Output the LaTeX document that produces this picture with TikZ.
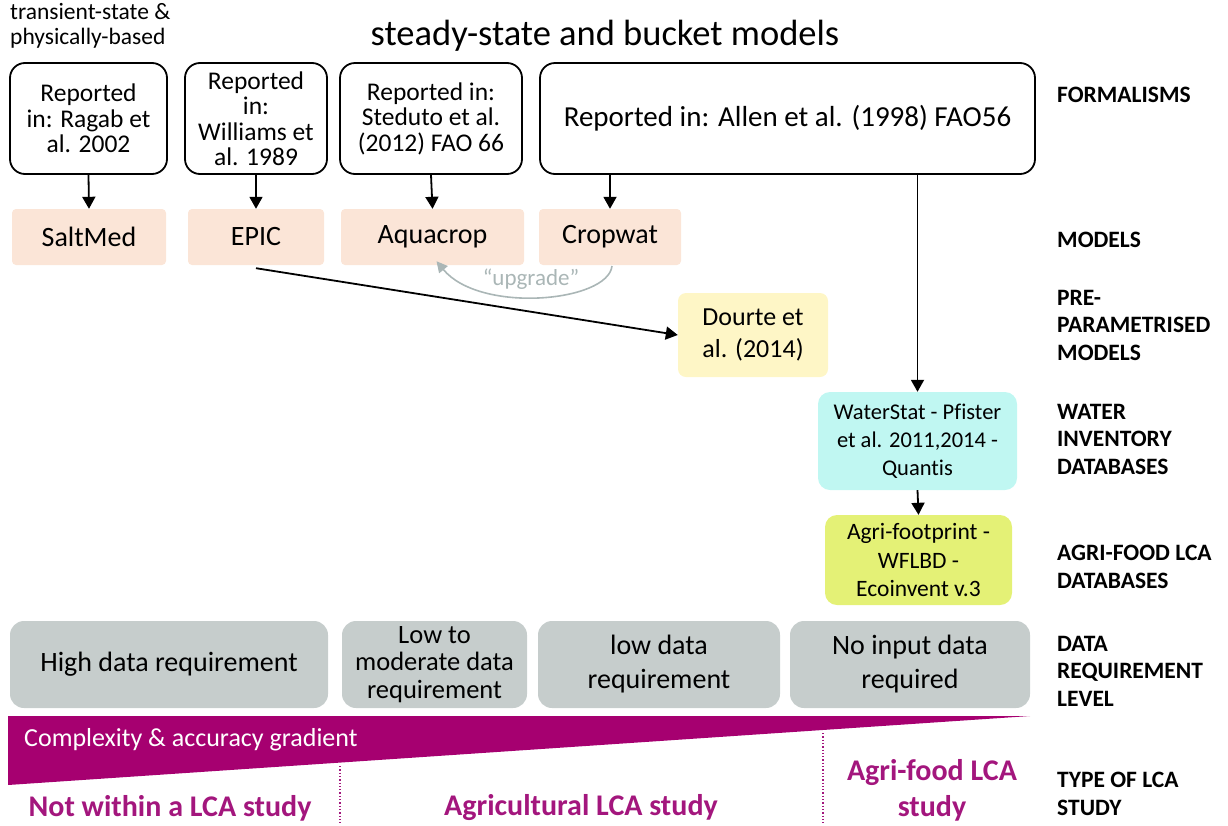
\documentclass[tikz,border=0pt]{standalone}
\usepackage{fontspec}
\setmainfont{Carlito}[Ligatures=NoCommon]
\usetikzlibrary{arrows.meta}
\definecolor{peach}{RGB}{251,229,215}
\definecolor{lyellow}{RGB}{254,246,198}
\definecolor{lcyan}{RGB}{192,247,242}
\definecolor{lgreen}{RGB}{228,241,118}
\definecolor{lgray}{RGB}{198,205,204}
\definecolor{mag}{RGB}{166,0,112}
\definecolor{magtext}{RGB}{163,22,125}
\definecolor{upg}{RGB}{170,182,182}
\newcommand\fs[2]{\fontsize{#1}{#2}\selectfont}
\tikzset{
  x=1pt, y=-1pt,
  formbox/.style={draw=black, line width=1.8pt, rounded corners=15pt, fill=white, align=center, inner sep=0pt, font=\fs{25.5}{25.5}},
  modelbox/.style={fill=peach, rounded corners=4pt, align=center, inner sep=0pt, font=\fs{28}{30}},
  databox/.style={fill=lgray, rounded corners=14pt, align=center, inner sep=0pt, font=\fs{28}{34}},
  sidelabel/.style={anchor=west, align=left, inner sep=0pt, font=\bfseries\fs{23.5}{27.5}},
  studylabel/.style={align=center, inner sep=0pt, text=magtext, font=\bfseries\fs{30}{36}},
  arr/.style={line width=1.8pt, -{Triangle[width=13pt,length=12pt]}},
  dotline/.style={magtext, line width=1.3pt, dotted},
}
\begin{document}
\begin{tikzpicture}
\useasboundingbox (0,0) rectangle (1228,825);
% title and header
\node[align=left, anchor=north west, inner sep=0pt, font=\fs{23.5}{25}] (ts) at (10,3) {transient-state \&\\physically-based};
\node[inner sep=0pt, font=\fs{36.5}{40}] (title) at (605,36) {steady-state and bucket models};
% formalisms
\node[formbox, minimum width=157pt, minimum height=111pt] (f1) at (88.5,118.5) {Reported\\in: Ragab et\\al. 2002};
\node[formbox, minimum width=142pt, minimum height=111pt] (f2) at (256,118.5) {Reported\\in:\\Williams et\\al. 1989};
\node[formbox, minimum width=182pt, minimum height=111pt] (f3) at (431,118.5) {Reported in:\\Steduto et al.\\(2012) FAO 66};
\node[formbox, minimum width=495pt, minimum height=111pt, font=\fs{29}{31}] (f4) at (787.5,118.5) {Reported in: Allen et al. (1998) FAO56};
% models
\node[modelbox, minimum width=154pt, minimum height=56pt] (m1) at (89,237) {SaltMed};
\node[modelbox, minimum width=136pt, minimum height=56pt] (m2) at (256,237) {EPIC};
\node[modelbox, minimum width=183pt, minimum height=56pt] (m3) at (432.5,237) {Aquacrop};
\node[modelbox, minimum width=142pt, minimum height=56pt] (m4) at (610,237) {Cropwat};
% other databases
\node[fill=lyellow, rounded corners=8pt, align=center, inner sep=0pt, minimum width=150pt, minimum height=84pt, font=\fs{26}{32}] (dourte) at (753,335) {Dourte et\\al. (2014)};
\node[fill=lcyan, rounded corners=12pt, align=center, inner sep=0pt, minimum width=199pt, minimum height=98pt, font=\fs{22.5}{28}] (ws) at (917.5,441) {WaterStat - Pfister\\et al. 2011,2014 -\\Quantis};
\node[fill=lgreen, rounded corners=12pt, align=center, inner sep=0pt, minimum width=187pt, minimum height=90pt, font=\fs{23.5}{28.5}] (af) at (918.5,560) {Agri-footprint -\\WFLBD -\\Ecoinvent v.3};
% data requirement
\node[databox, minimum width=318pt, minimum height=87pt] (d1) at (169,664.5) {High data requirement};
\node[databox, minimum width=185pt, minimum height=87pt, font=\fs{26.5}{27.5}] (d2) at (434.5,664.5) {Low to\\moderate data\\requirement};
\node[databox, minimum width=242pt, minimum height=87pt] (d3) at (659,664.5) {low data\\requirement};
\node[databox, minimum width=240pt, minimum height=87pt] (d4) at (910,664.5) {No input data\\required};
% arrows
\draw[arr] (f1.south) -- (m1.north);
\draw[arr] (f2.south) -- (m2.north);
\draw[arr] (f3.south) -- (m3.north);
\draw[arr] (f4.south -| m4.north) -- (m4.north);
\draw[arr] (f4.south -| ws.north) -- (ws.north);
\draw[arr] (ws.south) -- (af.north);
\draw[arr] ([yshift=-3pt]m2.south) -- (dourte.west);
% upgrade
\coordinate (ustart) at (612,266);
\draw[upg, line width=1.6pt, -{Triangle[width=11pt,length=11pt]}] (ustart) .. controls (608,302) and (480,314) .. ([xshift=4pt,yshift=4pt]m3.south);
\node[text=upg, inner sep=0pt, font=\fs{23}{26}] (upgl) at (531,279) {“upgrade”};
% gradient wedge
\fill[mag] (8,716) -- (1030,716) -- (8,785) -- cycle;
\node[anchor=west, text=white, inner sep=0pt, font=\fs{26}{30}] (grad) at (24,740) {Complexity \& accuracy gradient};
\coordinate (dl1a) at (340,766);
\coordinate (dl1b) at (340,825);
\coordinate (dl2a) at (823,733);
\coordinate (dl2b) at (823,825);
\draw[dotline] (dl1a) -- (dl1b);
\draw[dotline] (dl2a) -- (dl2b);
% study types
\node[studylabel] (s1) at (170,808) {Not within a LCA study};
\node[studylabel] (s2) at (581,808) {Agricultural LCA study};
\node[studylabel] (s3) at (932,790) {Agri-food LCA\\study};
% side labels
\node[sidelabel] (l1) at (1057,95) {FORMALISMS};
\node[sidelabel] (l2) at (1057,240) {MODELS};
\node[sidelabel] (l3) at (1057,325) {PRE-\\PARAMETRISED\\MODELS};
\node[sidelabel] (l4) at (1057,439) {WATER\\INVENTORY\\DATABASES};
\node[sidelabel] (l5) at (1057,567) {AGRI-FOOD LCA\\DATABASES};
\node[sidelabel] (l6) at (1057,671) {DATA\\REQUIREMENT\\LEVEL};
\node[sidelabel] (l7) at (1057,794) {TYPE OF LCA\\STUDY};
\end{tikzpicture}
\end{document}
